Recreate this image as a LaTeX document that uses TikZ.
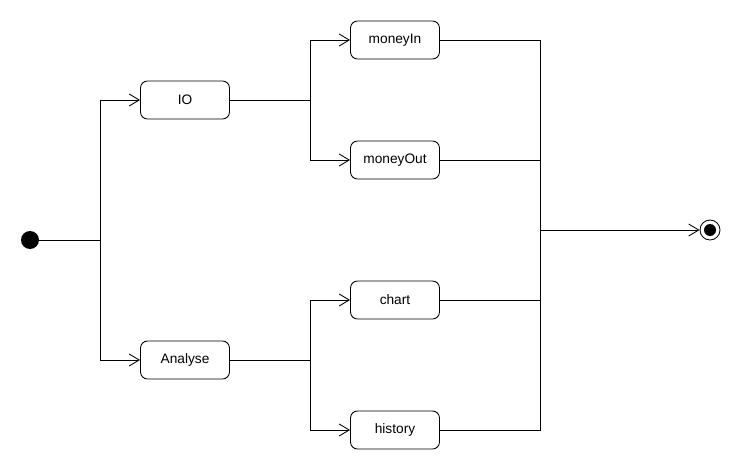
\documentclass[tikz,border=0pt]{standalone}
\usepackage{fontspec}
\setmainfont{Liberation Sans}
\usetikzlibrary{arrows.meta}

\begin{document}
\begin{tikzpicture}[
    state/.style={rectangle, draw, rounded corners=1.4mm, minimum width=1.78cm, minimum height=0.76cm, font=\fontsize{7.8}{9}\selectfont},
    arr/.style={-{Straight Barb[length=2mm, width=2.4mm]}},
    line width=0.5pt]
    \useasboundingbox (0,0) rectangle (14.8,9.4);

    \node[circle, fill, inner sep=0, minimum size=3.6mm] (start) at (0.6,4.6) {};
    \node[circle, draw, inner sep=0, minimum size=4mm] (end) at (14.2,4.8) {};
    \fill (end) circle (0.12);

    \node[state] (io) at (3.7,7.4) {IO};
    \node[state] (analyse) at (3.7,2.2) {Analyse};

    \node[state] (moneyIn) at (7.9,8.6) {moneyIn};
    \node[state] (moneyOut) at (7.9,6.2) {moneyOut};
    \node[state] (chart) at (7.9,3.4) {chart};
    \node[state] (history) at (7.9,0.8) {history};

    \coordinate (fork) at (2.0,4.6);
    \coordinate (ioFork) at (6.2,7.4);
    \coordinate (anFork) at (6.2,2.2);
    \coordinate (join) at (10.8,4.8);

    \draw (start) -- (fork);
    \draw[arr] (fork) |- (io);
    \draw[arr] (fork) |- (analyse);

    \draw (io) -- (ioFork);
    \draw[arr] (ioFork) |- (moneyIn);
    \draw[arr] (ioFork) |- (moneyOut);
    \draw (analyse) -- (anFork);
    \draw[arr] (anFork) |- (chart);
    \draw[arr] (anFork) |- (history);

    \draw (moneyIn) -| (join);
    \draw (moneyOut) -| (join);
    \draw (chart) -| (join);
    \draw (history) -| (join);
    \draw[arr] (join) -- (end);
\end{tikzpicture}
\end{document}
